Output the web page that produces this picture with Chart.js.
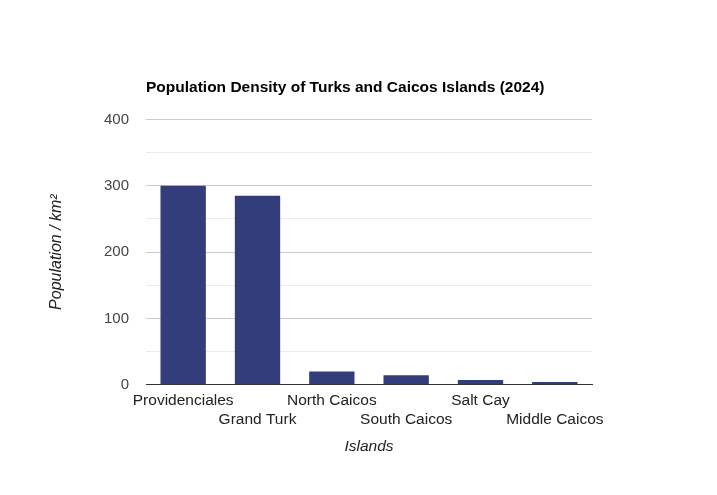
<!DOCTYPE html>
<html lang="en">
<head>
  <meta charset="UTF-8">
  <title>Population Density of Turks and Caicos Islands (2024)</title>
  <style>
    /* full window canvas */
    body { margin: 0; background: #fff; }
    .chart-box { position: relative; width: 717px; height: 495px; }
  </style>
</head>
<body>
  <div class="chart-box"><canvas id="densityChart"></canvas></div>

  <script src="https://cdn.jsdelivr.net/npm/chart.js"></script>
  <script>
    const islands = ['Providenciales', 'Grand Turk', 'North Caicos', 'South Caicos', 'Salt Cay', 'Middle Caicos'];
    const density = [300, 285, 20, 14, 7, 4];
    const yTicks = [0, 100, 200, 300, 400];

    const font = "'Liberation Sans', Arial, sans-serif";

    new Chart(document.getElementById('densityChart'), {
      type: 'bar',
      data: {
        labels: islands,
        datasets: [{ data: density, backgroundColor: '#333d7c', barPercentage: 0.61, categoryPercentage: 1 }]
      },
      options: {
        responsive: true,
        maintainAspectRatio: false,
        animation: false,
        layout: { padding: { left: 47, right: 125, top: 74, bottom: 39 } },
        plugins: {
          legend: { display: false },
          tooltip: { enabled: false },
          title: {
            display: true,
            text: 'Population Density of Turks and Caicos Islands (2024)',
            align: 'start',
            fullSize: false,
            color: '#000',
            font: { family: font, size: 15.5, weight: 'bold' },
            padding: { top: 4, bottom: 23 }
          }
        },
        scales: {
          x: {
            grid: { display: false, drawTicks: false },
            border: { display: true, color: '#333', width: 1 },
            ticks: {
              autoSkip: false, maxRotation: 0, minRotation: 0, padding: 6,
              color: '#222', font: { family: font, size: 15.5, lineHeight: 1.25 },
              // staggered two-row labels
              callback: (v, i) => i % 2 ? ['', islands[i]] : islands[i]
            },
            title: {
              display: true, text: 'Islands', color: '#222',
              font: { family: font, size: 15.5, style: 'italic' },
              padding: { top: 2, bottom: 0 }
            }
          },
          y: {
            min: 0, max: 400,
            afterFit: s => { s.width = 99; },
            grid: {
              drawTicks: false,
              color: c => c.tick.value % 100 === 0 ? '#cccccc' : '#ebebeb'
            },
            border: { display: false },
            ticks: {
              stepSize: 50, padding: 17, color: '#444',
              font: { family: font, size: 15 },
              callback: v => yTicks.includes(v) ? v : ''
            },
            title: {
              display: true, text: 'Population / km²', color: '#222',
              font: { family: font, size: 16, style: 'italic' },
              padding: { top: 0, bottom: 0 }
            }
          }
        }
      }
    });
  </script>
</body>
</html>
